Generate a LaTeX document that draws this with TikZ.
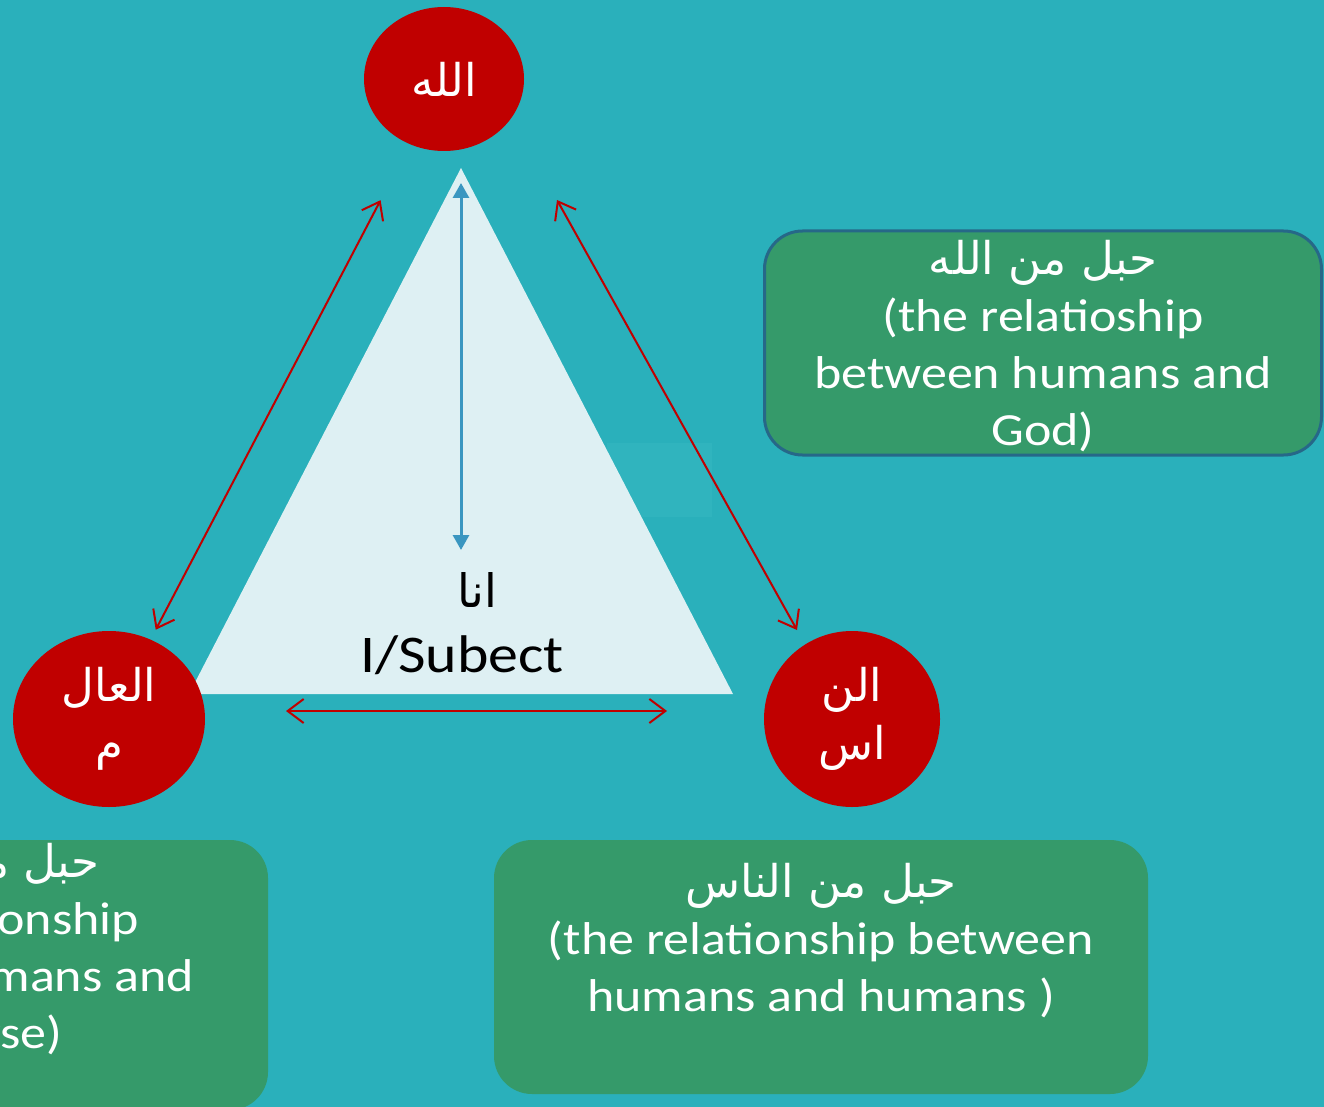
\documentclass[tikz,border=0pt]{standalone}
\usepackage{fontspec}
\setmainfont{Carlito}[FakeStretch=1.13]
\newfontfamily\arabicfont[Script=Arabic,Scale=0.98]{DejaVu Sans}
\TeXXeTstate=1
\usetikzlibrary{arrows.meta, positioning, shapes.geometric}

\definecolor{seabg}{RGB}{42,176,187}
\definecolor{trifill}{RGB}{222,240,243}
\definecolor{godred}{RGB}{192,0,0}
\definecolor{boxgreen}{RGB}{53,154,106}
\definecolor{boxedge}{RGB}{38,104,136}
\definecolor{linkblue}{RGB}{58,150,192}
\definecolor{ghostteal}{RGB}{48,180,190}

\newcommand{\artext}[1]{{\arabicfont\beginR #1\endR}}

\begin{document}
\begin{tikzpicture}[
    x=1pt, y=-1pt,
    disc/.style={ellipse, fill=godred, text=white, inner sep=0pt,
                 align=center, font=\fontsize{46}{58}\selectfont},
    greenbox/.style={rounded corners=38pt, fill=boxgreen},
    boxtext/.style={text=white, align=center,
                    font=\fontsize{46}{57}\selectfont},
    redarrow/.style={draw=godred, line width=2pt,
                     {Straight Barb[length=16pt,width=24pt]}-{Straight Barb[length=16pt,width=24pt]}},
    bluearrow/.style={draw=linkblue, line width=3pt,
                      {Triangle[length=15pt,width=16pt]}-{Triangle[length=15pt,width=16pt]}}
  ]
  \clip (0,0) rectangle (1324,1107);
  \fill[seabg] (0,0) rectangle (1324,1107);
  \fill[ghostteal] (607,443) rectangle (712,517);

  % Triangle
  \coordinate (apex) at (461,168);
  \coordinate (baseleft) at (189,694);
  \coordinate (baseright) at (733,694);
  \fill[trifill] (apex) -- (baseleft) -- (baseright) -- cycle;

  % Circles
  \node[disc, minimum width=160pt, minimum height=144pt] (god) at (444,79)
    {\artext{الله}};
  \node[disc, minimum width=192pt, minimum height=176pt] (world) at (109,719)
    {\artext{العال}\\\artext{م}};
  \node[disc, minimum width=176pt, minimum height=176pt] (people) at (852,719)
    {\artext{الن}\\\artext{اس}};

  % Self
  \node[font=\fontsize{47}{60}\selectfont] (selfar) at (477,590) {\artext{انا}};
  \node[font=\fontsize{53}{64}\selectfont] (selfen) at (462,655) {I/Subect};

  % Arrows
  \coordinate (foot) at (461,550);
  \draw[bluearrow, shorten <=15pt] (apex) -- (foot);
  \draw[redarrow, shorten <=63pt, shorten >=11pt] (god) -- (world);
  \coordinate (rtop) at (557,200);
  \coordinate (rbot) at (797,630);
  \draw[redarrow] (rtop) -- (rbot);
  \coordinate (hleft) at (286,711);
  \coordinate (hright) at (667,711);
  \draw[redarrow] (hleft) -- (hright);

  % Boxes
  \node[greenbox, draw=boxedge, line width=3pt, minimum width=557pt,
        minimum height=224pt] (godbox) at (1043,343) {};
  \node[boxtext] (godtext) at (1043,346)
    {\artext{حبل من الله}\\(the relatioship\\between humans and\\God)};
  \node[greenbox, minimum width=654pt, minimum height=254pt] (peoplebox) at (821,967) {};
  \node[boxtext] (peopletext) at (821,941)
    {\artext{حبل من الناس}\\(the relationship between\\humans and humans )};
  \node[greenbox, minimum width=610pt, minimum height=270pt] (worldbox) at (-37,975) {};
  \node[boxtext] (worldtext) at (-35,949)
    {\artext{حبل من العالم}\\(the relationship\\between humans and\\universe)};
\end{tikzpicture}
\end{document}
